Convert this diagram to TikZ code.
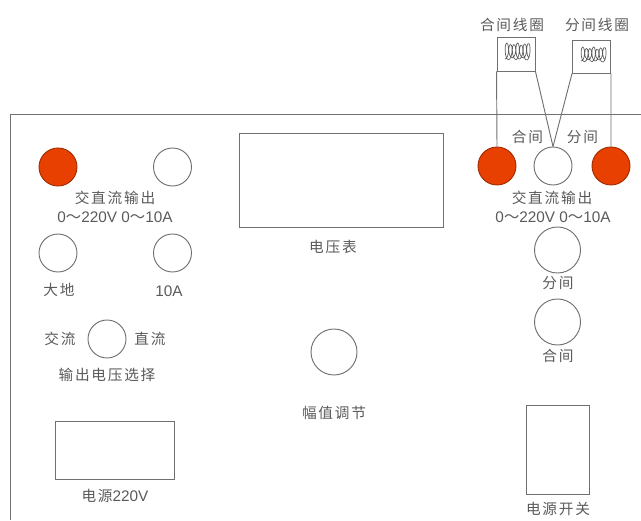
\documentclass[tikz,border=0pt]{standalone}
\usepackage{fontspec}
\setmainfont{Liberation Sans}
\newfontfamily\cjk[LetterSpace=12]{Noto Sans CJK SC}
\definecolor{hotred}{HTML}{E84000}
\definecolor{ink}{HTML}{5A5A5A}
\definecolor{edge}{HTML}{707070}
\tikzset{
 knob/.style={circle,draw=edge,line width=0.7pt,minimum size=38*0.75pt,inner sep=0pt,fill=white},
 bigknob/.style={knob,minimum size=46*0.75pt},
 hot/.style={knob,fill=hotred,draw=hotred!70!black},
 box/.style={rectangle,draw=edge,line width=0.7pt,inner sep=0pt},
 lab/.style={inner sep=0pt,font=\fontsize{11pt}{13pt}\selectfont\cjk,text=ink},
 num/.style={inner sep=0pt,font=\fontsize{11.5pt}{13pt}\selectfont,text=ink},
 wire/.style={draw=edge,line width=0.7pt},
 coil/.style={draw=ink,line width=0.5pt,line join=round}
}
\begin{document}
\begin{tikzpicture}[x=0.75pt,y=-0.75pt]
\useasboundingbox (0,0) rectangle (641,520);
\draw[wire] (10,520) -- (10,114) -- (641,114);
\node[box,minimum width=204*0.75pt,minimum height=94*0.75pt] (volt) at (341,180) {};
\node[box,minimum width=119*0.75pt,minimum height=58*0.75pt] (psu) at (114.5,450) {};
\node[box,minimum width=63*0.75pt,minimum height=89*0.75pt] (sw) at (557.5,449.5) {};
\node[box,minimum width=38*0.75pt,minimum height=34*0.75pt] (cl) at (516,54) {};
\node[box,minimum width=38*0.75pt,minimum height=33*0.75pt] (op) at (591.5,56.5) {};
\node[hot] (a) at (58,167) {};
\node[knob] (b) at (172.5,167) {};
\node[knob] (c) at (58,253) {};
\node[knob] (d) at (172.5,253) {};
\node[knob] (e) at (107,339) {};
\node[bigknob] (f) at (334,352) {};
\node[hot] (g) at (497,166) {};
\node[knob] (h) at (553,166) {};
\node[hot] (i) at (611,166) {};
\node[bigknob] (j) at (557.5,250) {};
\node[bigknob] (k) at (557.5,322) {};
\draw[wire] (g.north) -- (cl.south west);
\draw[wire] (cl.south east) -- (h.north);
\draw[wire] (h.north) -- (op.south west);
\draw[wire] (op.south east) -- (i.north);
\draw[coil] plot[smooth,samples=70,domain=0:25,variable=\t] ({505+\t+2.5*sin(\t*100)},{51.5+(7.5+1.2*sin(\t*37))*cos(\t*100)});
\draw[coil] plot[smooth,samples=70,domain=0:25,variable=\t] ({581+\t+2.5*sin(\t*100)},{54.5+(6.5+1.2*sin(\t*37))*cos(\t*100)});
\node[lab] (t1) at (512,25) {合间线圈};
\node[lab] (t2) at (597,25) {分间线圈};
\node[lab] at (527.5,137) {合间};
\node[lab] at (582.5,137) {分间};
\node[lab] at (115,198) {交直流输出};
\node[num] at (115,217) {0{\cjk～}220V 0{\cjk～}10A};
\node[lab] at (552,198) {交直流输出};
\node[num] at (553,217) {0{\cjk～}220V 0{\cjk～}10A};
\node[lab] at (59,290) {大地};
\node[num] at (169,291) {10A};
\node[lab] at (60,339) {交流};
\node[lab] at (150,339) {直流};
\node[lab] at (107,375) {输出电压选择};
\node[lab] at (333,247) {电压表};
\node[lab] at (334,413) {幅值调节};
\node[lab] at (115,496) {电源\fontsize{11.5pt}{13pt}\selectfont\rmfamily 220V};
\node[lab] at (558,283) {分间};
\node[lab] at (558,356) {合间};
\node[lab] at (558,509) {电源开关};
\end{tikzpicture}
\end{document}
